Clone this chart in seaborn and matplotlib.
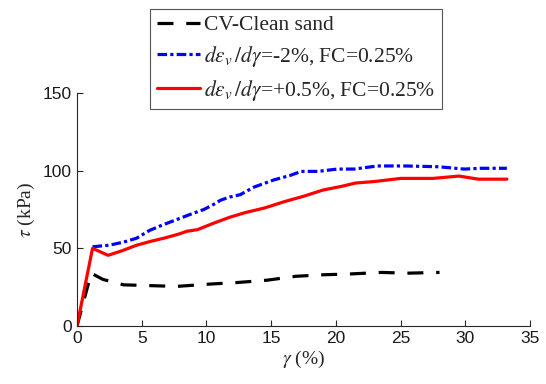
import pandas as pd
import seaborn as sns
import matplotlib.pyplot as plt

OUTPUT_PATH = "out.png"

# CV-Clean sand
clean_x = [0, 1.1, 2.0, 3.6, 5.6, 7.7, 10.3, 12.4, 14.7, 16.9, 19.1, 21.1, 23.5, 25.5, 28.0]
clean_y = [0, 34, 30, 26.5, 26, 25.5, 27, 28, 29.5, 32, 33, 33.5, 34.5, 34, 34.5]

# d eps_v / d gamma = -2 %
neg_x = [1.2, 2.5, 3.6, 4.6, 5.6, 6.6, 7.7, 8.8, 9.8, 10.5, 11.1, 11.8, 12.6, 13.7,
         15.2, 16.5, 17.3, 18.6, 20.1, 21.4, 23.2, 25.3, 27.9, 29.9, 31.2, 33.2]
neg_y = [51, 52, 54, 56.5, 61.5, 65, 68.5, 72, 75, 78, 81, 83, 84.5, 89.5,
         94, 97, 99.5, 99.5, 101, 101, 103, 103, 102.5, 101, 101.5, 101.5]

# d eps_v / d gamma = +0.5 %
pos_x = [0, 1.2, 2.4, 3.5, 4.6, 5.7, 6.7, 7.8, 8.5, 9.3, 10.5, 11.8, 13.0, 14.5, 16.0,
         17.5, 19.0, 20.5, 21.5, 23.0, 25.0, 27.5, 29.5, 31.0, 33.2]
pos_y = [0, 50, 45.5, 48.5, 52, 54.5, 56.5, 59, 61, 62, 66, 70, 73, 76, 80,
         83.5, 87.5, 90, 92, 93, 95, 95, 96.5, 94.5, 94.5]

labels = ["CV-Clean sand",
          r"$d\epsilon_{v}\,/d\gamma$=-2%, FC=0.25%",
          r"$d\epsilon_{v}\,/d\gamma$=+0.5%, FC=0.25%"]

sns.set_theme(style="ticks")
plt.rcParams['font.family'] = ['Liberation Sans', 'DejaVu Sans']
plt.rcParams['mathtext.fontset'] = 'stix'

fig = plt.figure(figsize=(5.46, 3.84), dpi=100)
ax = fig.add_axes([0.141, 0.151, 0.830, 0.607])

lw = 2.3
sns.lineplot(x=clean_x, y=clean_y, ax=ax, color="black", linewidth=lw,
             label=labels[0], dashes=False)
ax.lines[-1].set_dashes((5, 4))
sns.lineplot(x=neg_x, y=neg_y, ax=ax, color="#0000ff", linewidth=lw,
             label=labels[1], dashes=False)
ax.lines[-1].set_dashes((3, 1, 1, 1))
sns.lineplot(x=pos_x, y=pos_y, ax=ax, color="#ff0000", linewidth=lw,
             label=labels[2], dashes=False)

ax.set_xlim(0, 35)
ax.set_ylim(0, 150)
ax.set_xticks(range(0, 36, 5))
ax.set_yticks([0, 50, 100, 150])
ax.tick_params(direction="in", length=4, width=0.8, colors="#262626",
               labelsize=12.5, labelcolor="#1a1a1a")
for s in ["left", "bottom"]:
    ax.spines[s].set_color("#262626")
    ax.spines[s].set_linewidth(0.8)
sns.despine(ax=ax)

serif = ['Liberation Serif', 'DejaVu Serif']
ax.set_xlabel(r"$\gamma$ (%)", fontsize=14, family=serif, labelpad=2)
ax.set_ylabel(r"$\tau$ (kPa)", fontsize=14, family=serif, labelpad=4)

leg = ax.legend(loc="upper left", bbox_to_anchor=(0.275, 0.977),
                bbox_transform=fig.transFigure, frameon=True, fancybox=False,
                framealpha=1, edgecolor="#555555", borderpad=0.3,
                handlelength=2.0, handletextpad=0.2, labelspacing=0.4,
                borderaxespad=0,
                prop={'family': serif, 'size': 15.5})
leg.get_frame().set_linewidth(0.8)

plt.savefig(OUTPUT_PATH, dpi=100)
print(f"Saved: {OUTPUT_PATH}")
